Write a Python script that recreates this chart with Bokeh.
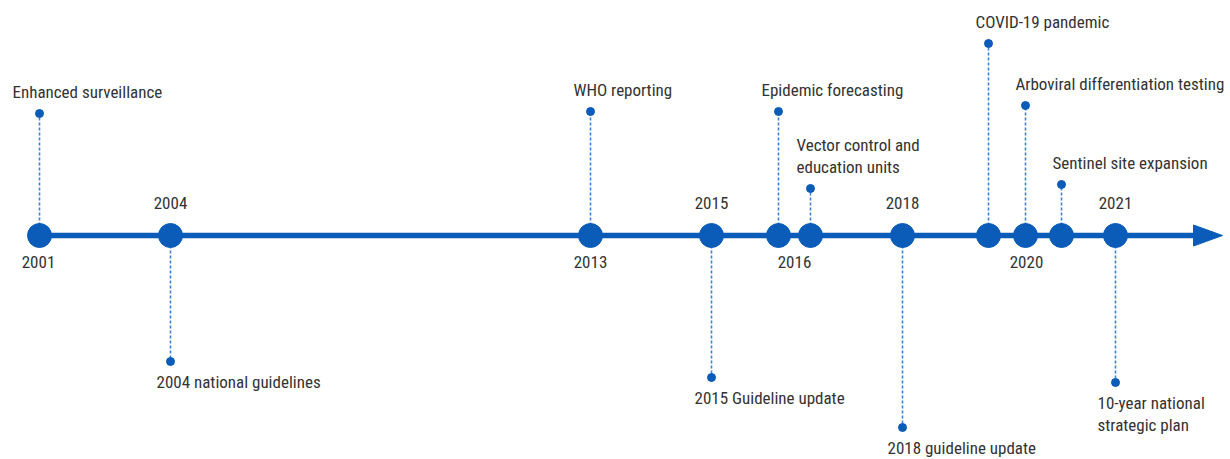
from bokeh.plotting import figure
from bokeh.models import Range1d
from bokeh.core.properties import value
from bokeh.embed import file_html
from bokeh.resources import INLINE

# ---- data (positions, in pixel units along the timeline) ----
milestone_x = [39, 170, 590, 711, 778, 810, 902, 988, 1025, 1061, 1115]
event_labels = [
    "Enhanced surveillance",
    "2004 national guidelines",
    "WHO reporting",
    "2015 Guideline update",
    "Epidemic forecasting",
    "Vector control and\neducation units",
    "2018 guideline update",
    "COVID-19 pandemic",
    "Arboviral differentiation testing",
    "Sentinel site expansion",
    "10-year national\nstrategic plan",
]
event_dot_y = [113, 361, 111, 377, 111, 188, 427, 43, 105, 184, 382]
event_side = ["above", "below", "above", "below", "above", "above", "below",
              "above", "above", "above", "below"]
event_label_dx = [-27, -14, -17, -17, -17, -14, -15, -13, -10, -9, -18]

year_labels = ["2001", "2004", "2013", "2015", "2016", "2018", "2020", "2021"]
year_x = [38, 170, 590, 711, 794, 902, 1026, 1115]
year_side = ["below", "above", "below", "above", "below", "above", "below", "above"]

# ---- style ----
BLUE = "#0a5cb8"
STEM = "#3a82d4"
TEXT = "#333333"
FONT = value("Roboto Condensed")
FSIZE = "17px"
AXIS_Y = 235
LINE_H = 22
TXT_CORR = -7   # baseline correction for svg text rendering

W, H = 1230, 459
p = figure(width=W, height=H, output_backend="svg", toolbar_location=None,
           x_range=Range1d(0, W), y_range=Range1d(H, 0),
           min_border=0, outline_line_color=None)
p.axis.visible = False
p.grid.visible = False
p.background_fill_color = "white"

# stems
p.segment(x0=milestone_x, y0=[AXIS_Y] * len(milestone_x), x1=milestone_x, y1=event_dot_y,
          line_color=STEM, line_width=1.6, line_dash="3 2")
p.scatter(milestone_x, event_dot_y, size=8, color=BLUE)

# main line + arrow
x_end = 1222
p.segment(x0=[milestone_x[0]], y0=[AXIS_Y], x1=[x_end - 25], y1=[AXIS_Y],
          line_color=BLUE, line_width=5.5)
p.patch([x_end - 29, x_end, x_end - 29], [AXIS_Y - 10.5, AXIS_Y, AXIS_Y + 10.5],
        color=BLUE, line_color=BLUE)

# milestone circles
p.scatter(milestone_x, [AXIS_Y] * len(milestone_x), size=24, color=BLUE)

# year labels
yy = [(AXIS_Y - 26 if s == "above" else AXIS_Y + 33) + TXT_CORR for s in year_side]
p.text(year_x, yy, text=year_labels, text_align="center", text_baseline="alphabetic",
       text_font=FONT, text_font_size=FSIZE, text_color=TEXT)

# event labels (split into lines)
lx, ly, lt = [], [], []
for x, dy, lab, s, dx in zip(milestone_x, event_dot_y, event_labels, event_side, event_label_dx):
    lines = lab.split("\n")
    n = len(lines)
    for i, ln in enumerate(lines):
        if s == "above":
            base = dy - 15 - (n - 1 - i) * LINE_H
        else:
            base = dy + 27 + i * LINE_H
        lx.append(x + dx)
        ly.append(base + TXT_CORR)
        lt.append(ln)
p.text(lx, ly, text=lt, text_align="left", text_baseline="alphabetic",
       text_font=FONT, text_font_size=FSIZE, text_color=TEXT)

open("out.html", "w").write(file_html(p, INLINE))
